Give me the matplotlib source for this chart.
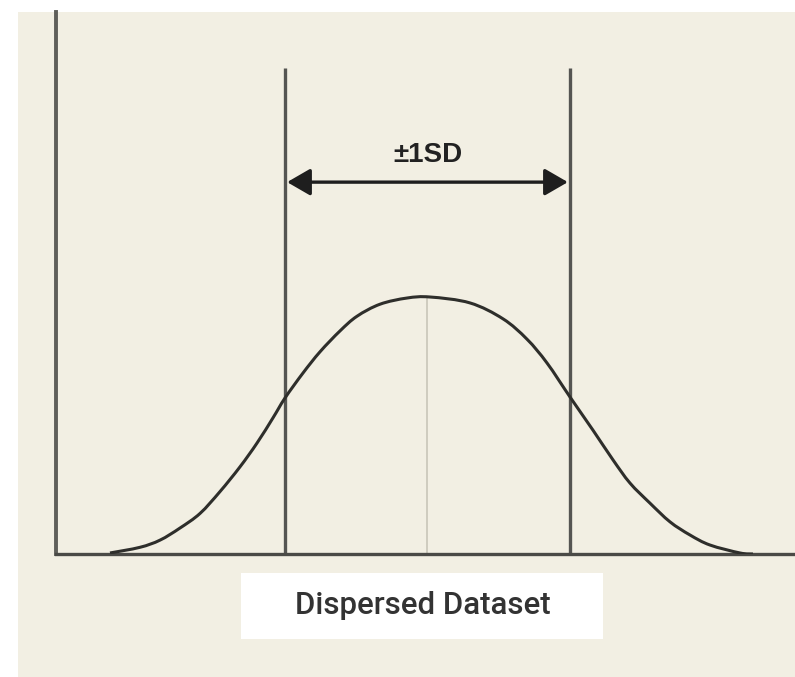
import matplotlib
matplotlib.use("Agg")
import matplotlib.pyplot as plt
from matplotlib.patches import Rectangle, PathPatch
from matplotlib.path import Path

# Curve (x in SD units, y relative to peak height)
curve_x = [-2.228, -2.018, -1.877, -1.737, -1.596, -1.456, -1.316, -1.196, -1.084,
           -1.0, -0.874, -0.754, -0.614, -0.495, -0.333, -0.144, 0.018,
           0.298, 0.530, 0.698, 0.839, 1.0, 1.161, 1.302, 1.421, 1.561,
           1.702, 1.842, 1.982, 2.193, 2.284]
curve_y = [0.004, 0.026, 0.054, 0.101, 0.158, 0.243, 0.339, 0.432, 0.530,
           0.607, 0.704, 0.787, 0.868, 0.925, 0.972, 0.996, 1.0,
           0.977, 0.915, 0.836, 0.743, 0.611, 0.482, 0.366, 0.276, 0.198,
           0.125, 0.074, 0.035, 0.004, 0.0]
mean_x = 0.0
peak_y = 1.0
sd_lines = [-1.0, 1.0]
sd_line_top = 1.891
arrow_y = 1.447
sd_label = "±1SD"
dataset_label = "Dispersed Dataset"

W, H = 795, 677
fig = plt.figure(figsize=(W / 100, H / 100), dpi=100)
fig.patch.set_facecolor("white")

bg = "#f2efe3"
fig.patches.append(Rectangle((18 / W, 0), 1 - 18 / W, (H - 12) / H,
                             transform=fig.transFigure, facecolor=bg,
                             edgecolor="none", zorder=-5))
# label box
fig.patches.append(Rectangle((241 / W, (H - 639) / H), (603 - 241) / W, (639 - 573) / H,
                             transform=fig.transFigure, facecolor="white",
                             edgecolor="none", zorder=-4))

ax = fig.add_axes([56 / W, (H - 554) / H, 1 - 56 / W, (554 - 12) / H])
ax.set_zorder(2)
ax.set_facecolor("none")
ax.patch.set_alpha(0)
ax.set_xlim(-2.607, 2.579)
ax.set_ylim(0, 2.109)
for s in ["top", "right"]:
    ax.spines[s].set_visible(False)
ax.spines["left"].set_color("#5f5f5a")
ax.spines["left"].set_linewidth(2.8)
ax.spines["bottom"].set_color("#4a4a46")
ax.spines["bottom"].set_linewidth(2.4)
ax.set_xticks([])
ax.set_yticks([])

# centre line
ax.plot([mean_x, mean_x], [0, peak_y], color="#c9c6b8", lw=1.2, zorder=1)

# SD lines
for xv in sd_lines:
    ax.plot([xv, xv], [0, sd_line_top], color="#555552", lw=2.4,
            solid_capstyle="butt", zorder=2)

# bell curve: smooth line through the read points (Catmull-Rom drawn as Bezier)
pts = list(zip(curve_x, curve_y))
verts = [pts[0]]
codes = [Path.MOVETO]
n = len(pts)
for i in range(n - 1):
    p0 = pts[i - 1] if i > 0 else pts[i]
    p1 = pts[i]
    p2 = pts[i + 1]
    p3 = pts[i + 2] if i + 2 < n else pts[i + 1]
    c1 = (p1[0] + (p2[0] - p0[0]) / 6, p1[1] + (p2[1] - p0[1]) / 6)
    c2 = (p2[0] - (p3[0] - p1[0]) / 6, p2[1] - (p3[1] - p1[1]) / 6)
    verts += [c1, c2, p2]
    codes += [Path.CURVE4] * 3
ax.add_patch(PathPatch(Path(verts, codes), facecolor="none",
                       edgecolor="#2e2e2b", lw=2.2, zorder=3))

# arrow
ax.annotate("", xy=(sd_lines[1] - 0.015, arrow_y), xytext=(sd_lines[0] + 0.015, arrow_y),
            arrowprops=dict(arrowstyle="<|-|>,head_length=0.95,head_width=0.55",
                            color="#1e1e1e", lw=2.4, shrinkA=0, shrinkB=0,
                            mutation_scale=15),
            zorder=4)
ax.text(mean_x, 1.553, sd_label, ha="center", va="center",
        fontsize=20, fontweight="bold", family="Liberation Sans",
        color="#222222")

fig.text(423 / W, (H - 606) / H, dataset_label, ha="center", va="center",
         fontsize=22.5, family="Roboto", fontweight="medium", color="#333333", zorder=3)

fig.savefig("out.png", dpi=100, facecolor=fig.get_facecolor())
